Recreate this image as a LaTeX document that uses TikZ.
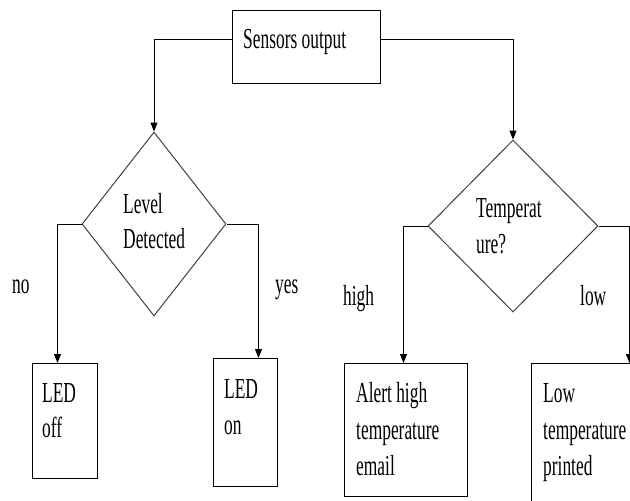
\documentclass[tikz,border=0pt]{standalone}
\usepackage{fontspec}
\setmainfont[FakeStretch=0.6]{Liberation Serif}
\usetikzlibrary{shapes.geometric,arrows.meta}
\begin{document}
\begin{tikzpicture}[x=1pt,y=-1pt,
  box/.style={draw,line width=1pt,inner sep=0pt,anchor=north west},
  dia/.style={diamond,draw=black!75,line width=1pt,inner sep=0pt},
  arr/.style={draw,line width=1pt,-{Triangle[length=9pt,width=7pt]}},
  txt/.style={anchor=base west,inner sep=0pt,font=\fontsize{29}{35}\selectfont}]
\useasboundingbox (0,0) rectangle (630,501);
\clip (0,0) rectangle (630,501);
% boxes
\node[box,minimum width=148pt,minimum height=73pt] (sens) at (232,10) {};
\node[box,minimum width=65pt,minimum height=115pt] (off) at (32,363) {};
\node[box,minimum width=64pt,minimum height=128pt] (on) at (213,358) {};
\node[box,minimum width=123pt,minimum height=133pt] (alert) at (344,363) {};
\node[box,minimum width=123pt,minimum height=150pt] (low) at (531,363) {};
% diamonds
\node[dia,minimum width=144pt,minimum height=184pt] (d1) at (154,224) {};
\node[dia,minimum width=170pt,minimum height=172pt] (d2) at (513,226) {};
% connectors
\draw[arr] ([yshift=7.5pt]sens.west) -| (d1.north);
\draw[arr] ([yshift=7.5pt]sens.east) -| (d2.north);
\draw[arr] (d1.west) -| ([xshift=-7.5pt]off.north);
\draw[arr] (d1.east) -| ([xshift=13pt]on.north);
\draw[arr] (d2.west) -| ([xshift=-2.5pt]alert.north);
\draw[arr] (d2.east) -| ([xshift=36.5pt]low.north);
% texts
\node[txt] (t1) at (243,48) {Sensors output};
\node[txt] (t2) at (123,213) {Level};
\node[txt] (t3) at (123,248) {Detected};
\node[txt] (t4) at (476,217) {Temperat};
\node[txt] (t5) at (476,253) {ure?};
\node[txt] (t6) at (12,293) {no};
\node[txt] (t7) at (275,293) {yes};
\node[txt] (t8) at (343,305) {high};
\node[txt] (t9) at (580,305) {low};
\node[txt] (t10) at (42,402) {LED};
\node[txt] (t11) at (42,437) {off};
\node[txt] (t12) at (224,398) {LED};
\node[txt] (t13) at (224,434) {on};
\node[txt] (t14) at (356,402) {Alert high};
\node[txt] (t15) at (356,439) {temperature};
\node[txt] (t16) at (356,475) {email};
\node[txt] (t17) at (543,402) {Low};
\node[txt] (t18) at (543,439) {temperature};
\node[txt] (t19) at (543,475) {printed};
\end{tikzpicture}
\end{document}
